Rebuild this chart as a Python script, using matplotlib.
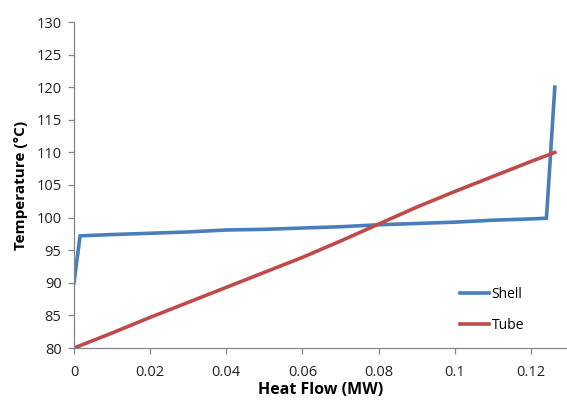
import matplotlib
matplotlib.use("Agg")
import matplotlib.pyplot as plt

shell_x = [0, 0.0016, 0.01, 0.02, 0.03, 0.04, 0.05, 0.06, 0.07, 0.08, 0.09, 0.1, 0.11, 0.12, 0.1241, 0.1263]
shell_y = [90, 97.2, 97.4, 97.6, 97.8, 98.1, 98.2, 98.4, 98.6, 98.9, 99.1, 99.3, 99.6, 99.8, 99.9, 120]
tube_x = [0, 0.01, 0.02, 0.03, 0.04, 0.05, 0.06, 0.07, 0.08, 0.09, 0.1, 0.11, 0.12, 0.1263]
tube_y = [80, 82.3, 84.7, 87.0, 89.3, 91.6, 93.9, 96.4, 99.0, 101.6, 104.0, 106.3, 108.6, 110.0]
x_ticks = [0, 0.02, 0.04, 0.06, 0.08, 0.1, 0.12]
x_tick_labels = ["0", "0.02", "0.04", "0.06", "0.08", "0.1", "0.12"]
y_ticks = [80, 85, 90, 95, 100, 105, 110, 115, 120, 125, 130]

plt.rcParams['font.family'] = ['Open Sans', 'DejaVu Sans']

fig = plt.figure(figsize=(5.67, 4.01), dpi=100)
ax = fig.add_axes([74/567, 1-348/401, 1-74/567, (348-22)/401])

ax.plot(shell_x, shell_y, color='#4A7EBB', lw=2.6, label='Shell', solid_joinstyle='miter')
ax.plot(tube_x, tube_y, color='#BE4B48', lw=2.6, label='Tube')

ax.set_xlim(0, 0.1295)
ax.set_ylim(80, 130)
ax.set_xticks(x_ticks)
ax.set_xticklabels(x_tick_labels)
ax.set_yticks(y_ticks)
for s in ['top', 'right']:
    ax.spines[s].set_visible(False)
for s in ['left', 'bottom']:
    ax.spines[s].set_color('#868686')
    ax.spines[s].set_linewidth(0.9)
ax.tick_params(axis='both', colors='#868686', labelcolor='#222222', labelsize=10.5, length=4, width=0.9)
ax.tick_params(axis='x', pad=8)
ax.tick_params(axis='y', pad=5)

ax.set_xlabel('Heat Flow (MW)', fontsize=11.5, fontweight='bold', labelpad=2)
ax.set_ylabel('Temperature (°C)', fontsize=11, fontweight='bold', labelpad=6)

leg = ax.legend(loc='upper left', bbox_to_anchor=(0.772, 0.205), frameon=False,
                fontsize=10, handlelength=2.1, handletextpad=0.15, labelspacing=1.15,
                borderaxespad=0)

fig.savefig('out.png', dpi=100)
